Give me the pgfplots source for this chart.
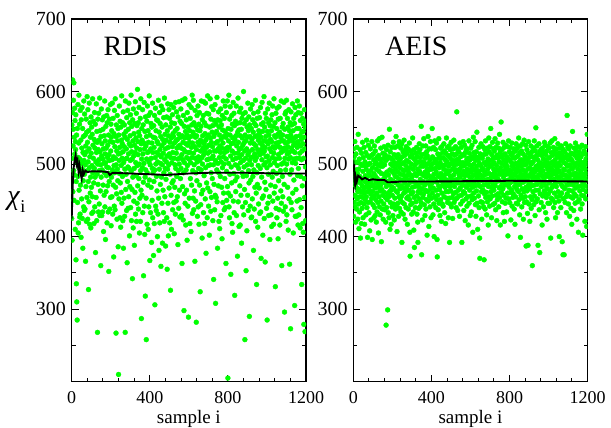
\documentclass[border=0pt]{standalone}
\usepackage{pgfplots}
\pgfplotsset{compat=1.18}
\usepackage{pgfplotstable}
\usepackage{fontspec}
\setmainfont{Liberation Serif}
\definecolor{ptgreen}{RGB}{0,255,0}

\pgfplotstableread[row sep=\\,header=false]{
425\\554\\395\\508\\571\\616\\462\\525\\548\\588\\491\\612\\450\\537\\485\\577\\514\\560\\410\\531\\
520\\568\\368\\476\\335\\540\\310\\502\\285\\549\\447\\483\\582\\405\\509\\419\\529\\595\\464\\495\\
555\\427\\507\\431\\574\\471\\488\\533\\399\\561\\501\\452\\522\\578\\425\\493\\549\\384\\516\\477\\
538\\441\\587\\505\\436\\486\\569\\513\\438\\540\\499\\366\\525\\469\\562\\421\\517\\544\\454\\593\\
491\\530\\424\\575\\503\\476\\327\\546\\448\\521\\584\\495\\417\\510\\557\\460\\537\\482\\412\\565\\
515\\468\\551\\432\\498\\541\\455\\590\\488\\526\\434\\508\\559\\474\\418\\534\\494\\571\\441\\522\\
482\\555\\378\\531\\503\\454\\583\\516\\422\\545\\486\\530\\268\\500\\562\\472\\520\\434\\570\\506\\
533\\445\\491\\591\\429\\517\\546\\463\\499\\360\\538\\482\\576\\511\\429\\528\\492\\561\\434\\507\\
548\\471\\521\\407\\565\\501\\457\\539\\488\\587\\441\\514\\532\\396\\502\\552\\462\\522\\484\\567\\
496\\419\\557\\509\\470\\526\\575\\434\\495\\540\\352\\513\\476\\562\\505\\438\\531\\487\\582\\454\\
518\\555\\415\\537\\482\\546\\455\\506\\584\\492\\431\\530\\563\\471\\510\\372\\542\\498\\442\\574\\
488\\524\\437\\590\\508\\468\\538\\267\\499\\554\\459\\518\\424\\567\\493\\532\\477\\549\\386\\514\\
210\\540\\452\\505\\580\\487\\523\\426\\559\\474\\515\\413\\551\\498\\461\\533\\594\\446\\508\\528\\
483\\557\\422\\517\\572\\384\\502\\541\\453\\524\\554\\428\\493\\537\\268\\587\\507\\465\\545\\486\\
521\\436\\564\\508\\364\\534\\476\\574\\496\\439\\548\\514\\455\\584\\494\\528\\401\\557\\469\\539\\
505\\568\\440\\525\\595\\490\\422\\517\\552\\465\\507\\342\\561\\482\\532\\412\\576\\511\\449\\542\\
494\\388\\526\\556\\461\\516\\586\\431\\502\\536\\484\\570\\421\\522\\553\\446\\498\\603\\470\\531\\
513\\557\\438\\544\\480\\578\\500\\405\\539\\453\\520\\563\\421\\491\\590\\464\\528\\287\\507\\549\\
457\\533\\495\\575\\433\\514\\554\\475\\346\\529\\501\\585\\442\\521\\403\\545\\482\\318\\565\\492\\
525\\453\\258\\538\\507\\559\\417\\488\\580\\516\\471\\546\\410\\530\\567\\441\\503\\594\\478\\518\\
367\\540\\499\\571\\433\\521\\556\\468\\508\\392\\551\\529\\450\\494\\584\\426\\516\\488\\537\\374\\
553\\476\\523\\418\\567\\492\\306\\536\\509\\577\\442\\500\\546\\436\\483\\561\\516\\463\\531\\400\\
503\\560\\431\\528\\588\\453\\513\\381\\544\\493\\571\\419\\520\\556\\472\\501\\538\\359\\510\\580\\
482\\525\\446\\551\\499\\391\\534\\575\\464\\515\\433\\564\\488\\529\\421\\591\\506\\455\\541\\494\\
521\\387\\554\\479\\533\\503\\565\\426\\511\\355\\546\\493\\583\\446\\523\\401\\539\\499\\575\\467\\
514\\563\\419\\530\\486\\551\\326\\509\\582\\457\\536\\410\\557\\502\\474\\524\\568\\437\\516\\542\\
477\\538\\578\\447\\508\\404\\529\\556\\468\\499\\546\\431\\585\\494\\532\\449\\515\\572\\483\\522\\
549\\455\\534\\507\\389\\565\\491\\524\\439\\541\\586\\500\\464\\526\\427\\559\\509\\480\\537\\576\\
494\\522\\429\\556\\513\\363\\539\\588\\469\\506\\530\\423\\567\\488\\520\\298\\552\\502\\459\\536\\
590\\446\\517\\545\\416\\528\\492\\561\\464\\509\\540\\395\\571\\498\\526\\442\\551\\516\\289\\536\\
507\\582\\453\\530\\546\\418\\516\\563\\480\\502\\538\\407\\578\\523\\471\\554\\509\\595\\432\\529\\
491\\544\\453\\588\\515\\437\\557\\499\\540\\463\\524\\366\\574\\508\\537\\449\\552\\488\\282\\520\\
539\\477\\567\\503\\428\\547\\530\\580\\441\\510\\494\\555\\417\\526\\571\\471\\505\\546\\324\\533\\
518\\444\\552\\492\\587\\459\\531\\509\\398\\561\\500\\539\\464\\522\\567\\433\\513\\586\\484\\528\\
557\\418\\517\\542\\452\\584\\495\\533\\377\\553\\523\\474\\570\\506\\426\\537\\594\\467\\515\\498\\
540\\442\\569\\507\\526\\402\\551\\517\\462\\590\\499\\536\\435\\562\\488\\530\\454\\579\\508\\544\\
480\\524\\553\\422\\511\\575\\499\\341\\538\\472\\560\\518\\437\\542\\582\\457\\505\\308\\529\\555\\
454\\518\\545\\492\\592\\448\\531\\384\\561\\501\\521\\470\\572\\488\\421\\551\\509\\540\\411\\525\\
560\\483\\516\\576\\429\\534\\503\\554\\468\\522\\397\\567\\495\\547\\447\\529\\587\\510\\460\\538\\
500\\437\\563\\516\\480\\545\\580\\440\\521\\537\\363\\507\\571\\490\\450\\541\\518\\587\\469\\523\\
205\\549\\460\\532\\501\\595\\441\\523\\426\\562\\486\\540\\579\\456\\511\\348\\548\\496\\528\\474\\
567\\418\\518\\555\\406\\536\\506\\585\\449\\529\\487\\570\\433\\515\\553\\319\\534\\477\\499\\559\\
462\\539\\508\\580\\429\\525\\556\\482\\498\\373\\544\\515\\591\\448\\530\\494\\547\\414\\520\\572\\
509\\470\\557\\416\\539\\502\\577\\457\\522\\548\\391\\513\\563\\488\\536\\441\\526\\569\\483\\505\\
600\\430\\529\\496\\556\\465\\518\\258\\540\\571\\447\\508\\532\\353\\561\\484\\521\\408\\551\\499\\
537\\457\\584\\513\\436\\546\\491\\565\\474\\517\\290\\554\\505\\538\\442\\529\\576\\478\\509\\426\\
549\\499\\427\\534\\582\\452\\520\\561\\483\\510\\544\\381\\570\\492\\528\\438\\556\\514\\468\\538\\
505\\588\\421\\525\\553\\460\\509\\334\\539\\488\\563\\472\\520\\413\\572\\498\\533\\445\\546\\516\\
467\\541\\564\\432\\513\\529\\494\\578\\434\\537\\370\\520\\555\\482\\506\\585\\453\\526\\545\\402\\
515\\557\\456\\532\\499\\593\\425\\518\\551\\475\\523\\365\\570\\502\\538\\465\\510\\563\\439\\531\\
495\\285\\545\\511\\576\\446\\528\\486\\557\\429\\540\\505\\584\\455\\521\\396\\553\\499\\534\\471\\
561\\430\\517\\546\\414\\531\\568\\482\\509\\580\\449\\524\\490\\552\\417\\515\\590\\460\\502\\539\\
522\\557\\469\\331\\537\\507\\570\\439\\529\\487\\549\\426\\577\\498\\525\\453\\541\\397\\562\\513\\
477\\530\\579\\437\\508\\544\\416\\523\\563\\491\\537\\463\\516\\587\\446\\500\\360\\532\\551\\483\\
540\\455\\518\\556\\435\\532\\502\\585\\472\\522\\296\\548\\508\\569\\441\\529\\492\\572\\421\\520\\
588\\500\\430\\538\\514\\563\\468\\524\\551\\409\\531\\507\\575\\452\\516\\546\\362\\536\\486\\557\\
509\\273\\540\\572\\447\\522\\492\\554\\437\\532\\502\\583\\460\\518\\546\\405\\526\\563\\478\\507\\
536\\556\\305\\516\\578\\428\\529\\501\\568\\465\\538\\428\\508\\549\\449\\523\\587\\484\\531\\416\\
571\\494\\528\\430\\549\\508\\580\\451\\515\\539\\412\\560\\483\\525\\570\\440\\534\\506\\334\\544\\
518\\470\\563\\418\\528\\545\\406\\508\\555\\279\\537\\480\\575\\454\\521\\269\\551\\496\\422\\559\\
}\rdis

\pgfplotstableread[row sep=\\,header=false]{
505\\521\\428\\477\\510\\447\\486\\457\\531\\441\\471\\502\\420\\482\\514\\455\\492\\438\\467\\523\\
452\\487\\503\\424\\462\\541\\476\\445\\493\\411\\465\\507\\434\\483\\455\\520\\474\\398\\500\\447\\
479\\418\\515\\461\\498\\439\\470\\530\\454\\490\\426\\509\\464\\480\\445\\523\\460\\498\\417\\476\\
503\\451\\484\\468\\516\\430\\493\\455\\533\\474\\440\\512\\483\\399\\462\\499\\447\\526\\469\\489\\
433\\509\\464\\485\\408\\501\\475\\448\\521\\459\\491\\423\\477\\512\\453\\531\\470\\396\\495\\462\\
482\\444\\514\\471\\506\\426\\487\\456\\525\\440\\500\\467\\429\\518\\483\\451\\503\\475\\420\\493\\
460\\509\\434\\480\\532\\468\\447\\499\\472\\405\\512\\455\\490\\535\\441\\477\\507\\463\\430\\497\\
471\\522\\449\\487\\393\\502\\465\\537\\478\\438\\497\\457\\515\\424\\475\\508\\445\\486\\524\\461\\
499\\437\\482\\513\\454\\474\\420\\505\\278\\469\\520\\440\\489\\451\\507\\476\\299\\459\\526\\433\\
485\\455\\510\\426\\472\\548\\462\\492\\410\\517\\447\\479\\500\\464\\417\\508\\469\\523\\441\\490\\
457\\506\\477\\429\\497\\530\\467\\445\\487\\513\\423\\475\\502\\453\\523\\483\\438\\493\\463\\538\\
474\\442\\509\\482\\407\\499\\461\\525\\446\\489\\513\\471\\428\\503\\455\\531\\479\\439\\495\\466\\
507\\452\\486\\522\\434\\470\\500\\456\\528\\392\\478\\510\\447\\492\\467\\517\\431\\485\\502\\460\\
533\\445\\491\\474\\512\\424\\480\\520\\462\\498\\440\\524\\468\\505\\453\\484\\515\\417\\494\\471\\
455\\521\\438\\489\\503\\464\\478\\529\\451\\495\\406\\373\\510\\475\\444\\485\\518\\459\\500\\431\\
482\\513\\446\\468\\536\\461\\493\\434\\508\\476\\409\\520\\454\\385\\498\\469\\506\\487\\440\\515\\
475\\448\\501\\484\\523\\456\\431\\510\\472\\493\\420\\392\\462\\516\\487\\439\\503\\468\\528\\452\\
490\\520\\441\\479\\509\\460\\497\\447\\552\\474\\375\\513\\466\\486\\423\\503\\525\\454\\476\\497\\
459\\535\\484\\502\\444\\471\\514\\429\\489\\508\\464\\525\\438\\482\\499\\451\\517\\474\\402\\493\\
511\\462\\486\\538\\449\\476\\501\\414\\492\\521\\456\\483\\506\\441\\470\\531\\466\\497\\426\\479\\
521\\453\\493\\474\\549\\460\\510\\482\\430\\501\\467\\523\\445\\486\\400\\507\\476\\532\\455\\494\\
479\\520\\440\\503\\464\\489\\529\\451\\475\\396\\372\\499\\457\\514\\484\\437\\508\\470\\535\\446\\
495\\465\\513\\482\\429\\502\\469\\522\\451\\487\\508\\421\\477\\524\\460\\498\\445\\483\\516\\472\\
442\\509\\474\\493\\528\\455\\480\\518\\433\\499\\468\\506\\486\\418\\515\\462\\491\\536\\453\\478\\
503\\471\\523\\447\\487\\512\\462\\426\\497\\475\\525\\453\\490\\392\\509\\469\\520\\445\\483\\500\\
463\\530\\480\\441\\506\\474\\514\\454\\493\\425\\501\\476\\521\\459\\485\\533\\447\\498\\469\\512\\
478\\451\\505\\489\\524\\461\\492\\440\\514\\475\\572\\453\\500\\479\\521\\436\\474\\507\\464\\490\\
517\\456\\485\\503\\428\\493\\529\\467\\482\\510\\445\\499\\474\\523\\457\\486\\392\\513\\471\\497\\
449\\502\\476\\531\\462\\490\\436\\512\\478\\498\\526\\460\\484\\422\\516\\470\\501\\452\\487\\520\\
468\\506\\442\\493\\521\\476\\455\\508\\485\\416\\500\\471\\532\\446\\491\\515\\464\\482\\506\\429\\
498\\472\\522\\456\\489\\434\\510\\478\\526\\451\\494\\468\\406\\508\\484\\537\\460\\500\\474\\516\\
453\\492\\512\\470\\531\\444\\486\\505\\428\\478\\517\\463\\497\\544\\446\\482\\509\\410\\491\\471\\
506\\456\\489\\523\\440\\476\\501\\398\\370\\485\\514\\469\\498\\448\\528\\479\\462\\510\\424\\492\\
477\\508\\447\\494\\524\\464\\484\\441\\513\\471\\368\\502\\459\\489\\520\\438\\478\\532\\454\\499\\
486\\514\\461\\430\\503\\474\\522\\448\\493\\479\\507\\416\\469\\500\\536\\455\\487\\517\\442\\475\\
524\\452\\497\\477\\549\\462\\505\\483\\426\\513\\468\\499\\456\\530\\486\\444\\508\\472\\521\\493\\
464\\502\\482\\518\\446\\490\\535\\470\\509\\437\\485\\523\\457\\498\\476\\422\\512\\492\\451\\529\\
480\\459\\508\\491\\522\\441\\477\\503\\467\\541\\454\\486\\516\\416\\495\\469\\510\\558\\461\\487\\
501\\475\\520\\448\\490\\512\\466\\530\\433\\482\\506\\457\\523\\485\\421\\498\\471\\514\\446\\493\\
477\\526\\453\\502\\486\\434\\510\\472\\497\\524\\460\\489\\401\\507\\478\\532\\452\\492\\468\\517\\
486\\447\\506\\474\\523\\461\\491\\423\\513\\482\\502\\464\\529\\442\\497\\476\\515\\454\\487\\509\\
459\\499\\479\\521\\438\\493\\469\\508\\417\\485\\518\\455\\501\\475\\528\\446\\489\\510\\465\\494\\
522\\471\\445\\498\\482\\512\\462\\536\\478\\451\\503\\491\\430\\516\\472\\525\\399\\486\\506\\457\\
497\\480\\518\\441\\501\\466\\485\\528\\453\\492\\514\\424\\475\\506\\462\\533\\484\\447\\499\\478\\
510\\455\\489\\526\\468\\387\\500\\448\\484\\520\\463\\505\\432\\493\\477\\388\\515\\471\\531\\445\\
483\\509\\466\\495\\421\\514\\475\\502\\455\\487\\525\\439\\500\\470\\517\\451\\491\\360\\510\\480\\
462\\503\\484\\522\\444\\493\\471\\532\\456\\489\\508\\429\\478\\518\\464\\550\\448\\497\\482\\512\\
525\\472\\492\\452\\506\\480\\388\\513\\464\\499\\485\\528\\437\\502\\477\\378\\517\\459\\495\\475\\
489\\520\\447\\501\\469\\512\\484\\416\\497\\522\\456\\491\\474\\507\\441\\516\\480\\500\\463\\530\\
476\\506\\460\\526\\486\\433\\513\\470\\497\\454\\518\\483\\424\\502\\466\\493\\524\\446\\487\\508\\
459\\500\\522\\474\\491\\446\\509\\482\\529\\463\\495\\398\\478\\516\\453\\502\\485\\532\\468\\492\\
512\\451\\487\\503\\471\\523\\440\\498\\479\\517\\460\\490\\535\\447\\506\\474\\426\\514\\486\\500\\
469\\521\\455\\495\\482\\510\\433\\489\\528\\462\\501\\476\\515\\449\\491\\400\\509\\478\\522\\456\\
498\\483\\515\\440\\505\\472\\525\\460\\487\\512\\393\\485\\469\\507\\375\\520\\452\\493\\478\\502\\
375\\492\\466\\517\\485\\447\\509\\476\\528\\455\\500\\484\\433\\513\\471\\567\\459\\497\\480\\523\\
474\\506\\445\\490\\521\\464\\482\\512\\428\\499\\472\\525\\455\\486\\507\\439\\515\\477\\494\\417\\
505\\463\\493\\545\\453\\485\\514\\471\\501\\436\\477\\522\\459\\497\\487\\512\\446\\480\\529\\467\\
487\\518\\456\\501\\475\\424\\508\\483\\524\\448\\493\\469\\512\\406\\499\\479\\517\\451\\486\\505\\
463\\499\\480\\523\\438\\490\\510\\470\\502\\457\\485\\526\\445\\495\\476\\402\\514\\465\\500\\483\\
497\\456\\518\\486\\471\\503\\421\\493\\477\\524\\452\\487\\507\\462\\513\\414\\480\\500\\541\\469\\
}\aeis

\pgfplotsset{
  every axis/.append style={
    scale only axis,
    width=234.3pt, height=362.7pt,
    xmin=0, xmax=1200, ymin=200, ymax=700,
    xtick={0,400,800,1200},
    minor x tick num=4,
    ytick={300,400,500,600,700},
    minor ytick={250,350,450,550,650},
    tick align=inside,
    major tick length=7pt,
    minor tick length=4pt,
    clip marker paths=true,
    axis line style={line width=1.4pt},
    every tick/.style={black, line width=1pt},
    /pgf/number format/assume math mode=true,
    /pgf/number format/1000 sep={},
    yticklabel style={font=\fontsize{20}{24}\selectfont, anchor=east, inner sep=0pt, xshift=-5.5pt},
    xticklabel style={font=\fontsize{18}{22}\selectfont, anchor=base, inner sep=0pt, yshift=-21.7pt},
    xlabel style={font=\fontsize{19}{22}\selectfont, at={(axis description cs:0.5,0)}, anchor=base, inner sep=0pt, yshift=-41.6pt},
    xlabel={sample i},
  },
}

\begin{document}
\begin{tikzpicture}
\begin{axis}[at={(0pt,0pt)}, anchor=south west]
  \addplot[only marks, mark=*, mark size=2.45pt, color=ptgreen, mark options={draw=none, fill=ptgreen}]
    table[x expr=\coordindex, y index=0] {\rdis};
  \addplot[black, line width=1.9pt] coordinates {
    (0,425) (5,470) (10,495) (15,505) (20,512) (25,500) (30,505) (35,490) (40,498) (45,488)
    (51,480) (56,492) (62,486) (70,491) (80,489) (100,490) (150,490) (185,489) (195,485) (210,488)
    (300,487) (400,486) (480,485) (600,487) (700,488) (900,488) (1050,487) (1200,487)};
  \node[anchor=base west, inner sep=0pt, font=\fontsize{28}{30}\selectfont] at (axis cs:162,650) {RDIS};
\end{axis}
\begin{axis}[at={(281.6pt,0pt)}, anchor=south west]
  \addplot[only marks, mark=*, mark size=2.45pt, color=ptgreen, mark options={draw=none, fill=ptgreen}]
    table[x expr=\coordindex, y index=0] {\aeis};
  \addplot[black, line width=1.9pt] coordinates {
    (0,505) (2,490) (4,500) (6,478) (9,472) (13,482) (18,476) (25,484) (34,482) (45,479)
    (60,481) (80,478) (100,479) (130,478) (160,478) (175,475) (190,475) (250,476) (400,476)
    (600,476.5) (800,477) (1000,476.5) (1200,476)};
  \node[anchor=base west, inner sep=0pt, font=\fontsize{28}{30}\selectfont] at (axis cs:162,650) {AEIS};
\end{axis}
\node[anchor=base west, inner sep=0pt, font=\fontsize{28}{30}\selectfont] at (-64.5pt,176.8pt) {\textit{χ}\raisebox{-8pt}{\fontsize{18}{18}\selectfont i}};
\pgfresetboundingbox
\path[use as bounding box] (-71.7pt,-46.3pt) rectangle (539.3pt,381.7pt);
\end{tikzpicture}
\end{document}
